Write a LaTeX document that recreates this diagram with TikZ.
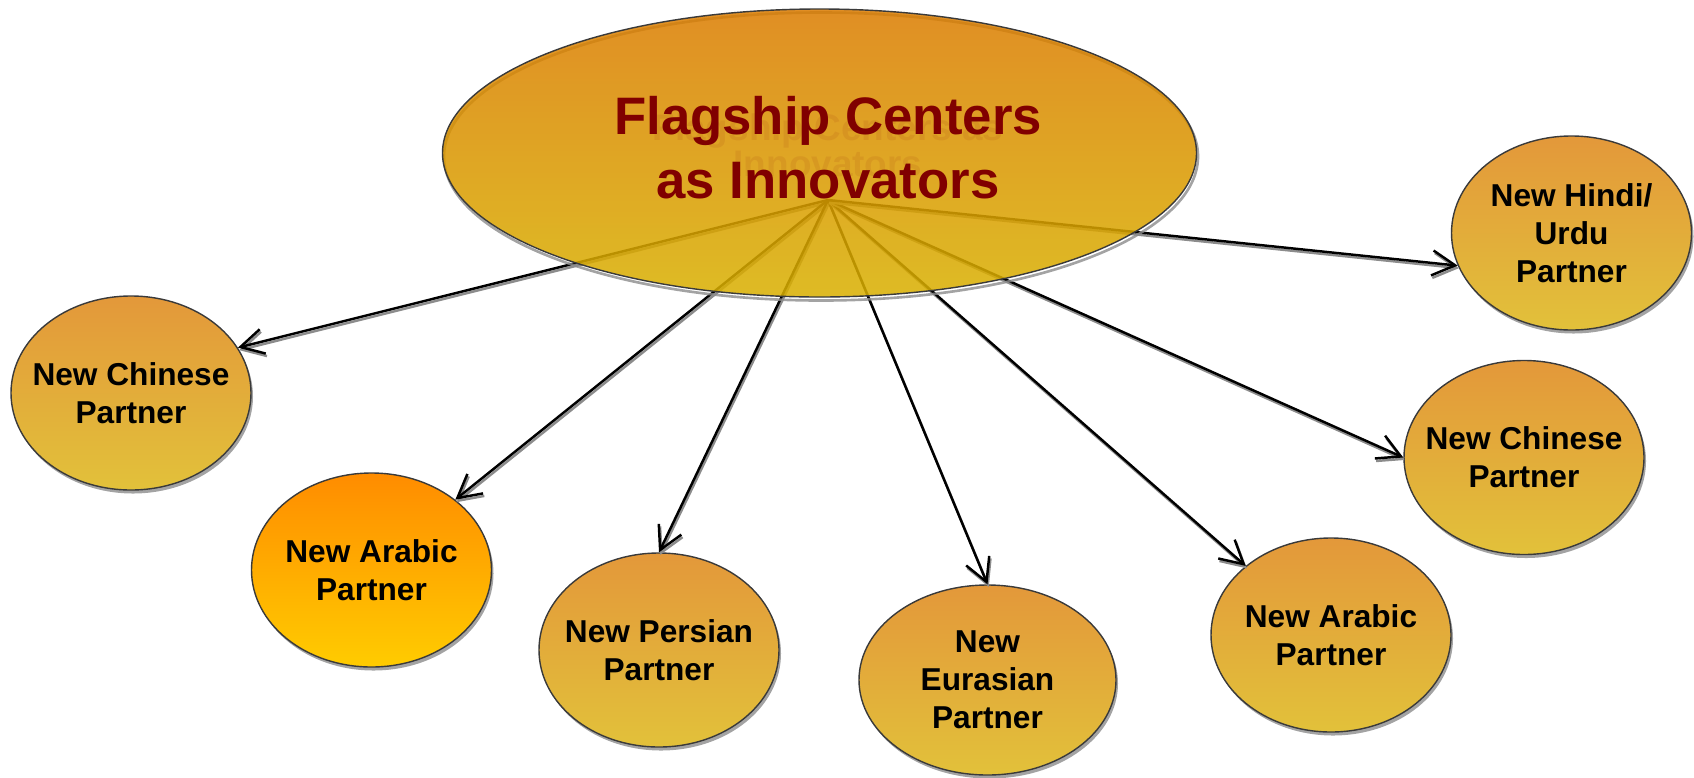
\documentclass[tikz,border=0pt]{standalone}
\usepackage{fontspec}
\setmainfont{Liberation Sans}
\usetikzlibrary{shapes.geometric,arrows.meta,shadows}
\definecolor{partnertop}{RGB}{227,152,58}
\definecolor{partnerbot}{RGB}{226,193,58}
\definecolor{arabictop}{RGB}{255,140,0}
\definecolor{arabicbot}{RGB}{255,204,0}
\definecolor{flagtop}{RGB}{219,124,0}
\definecolor{flagbot}{RGB}{217,176,0}
\definecolor{titlered}{RGB}{128,0,0}
\definecolor{rimgray}{RGB}{58,58,58}

\begin{document}
\begin{tikzpicture}[x=0.2mm,y=-0.2mm,
    partner/.style={ellipse,draw=rimgray,line width=0.8pt,inner sep=-8mm,
      minimum width=48mm,minimum height=38.8mm,
      top color=partnertop,bottom color=partnerbot,
      drop shadow={shadow xshift=0.4mm,shadow yshift=-0.7mm,fill=black!45,opacity=0.8},
      align=center,font=\fontsize{18}{21.6}\selectfont\bfseries},
    link/.style={line width=1.4pt,-{Straight Barb[length=4.6mm,width=5mm]}},
    link shadow/.style={link,draw=black!45}]
  \useasboundingbox (0,0) rectangle (1694,777);

  % Nodes
  \node[partner] (chineseL) at (131,393) {New Chinese\\Partner};
  \node[partner,top color=arabictop,bottom color=arabicbot] (arabicL) at (371.5,570) {New Arabic\\Partner};
  \node[partner] (persian) at (659,650) {New Persian\\Partner};
  \node[partner,minimum width=51.4mm,minimum height=38mm] (eurasian) at (987.5,680) {New\\Eurasian\\Partner};
  \node[partner] (arabicR) at (1331,635) {New Arabic\\Partner};
  \node[partner] (chineseR) at (1524,457.5) {New Chinese\\Partner};
  \node[partner] (hindi) at (1571.5,233) {New Hindi/\\Urdu\\Partner};
  \coordinate (hub) at (828,200);

  % Edges
  \foreach \tgt in {chineseL.23,arabicL.40,persian.90,eurasian.90,arabicR.141,chineseR.180,hindi.196}{
    \draw[link shadow] ([shift={(0.25mm,-0.5mm)}]hub) -- ([shift={(0.25mm,-0.5mm)}]\tgt);
    \draw[link] (hub) -- (\tgt);
  }

  % Centre
  \node[ellipse,draw=rimgray,line width=0.8pt,minimum width=150.8mm,minimum height=57.6mm,
    top color=flagtop,bottom color=flagbot,fill opacity=0.86,
    drop shadow={fill=none,draw=black!45,line width=1.5pt,opacity=0.8,shadow xshift=0.3mm,shadow yshift=-0.7mm}]
    (flagship) at (819.5,153) {};
  \node[font=\fontsize{21}{20.5}\selectfont\bfseries,text=titlered,text opacity=0.08,align=center]
    (ghost) at (828,145) {Flagship Centers as\\Innovators};
  \node[font=\fontsize{30}{36.4}\selectfont\bfseries,text=titlered,align=center]
    (title) at (828,148) {Flagship Centers\\as Innovators};
\end{tikzpicture}
\end{document}
